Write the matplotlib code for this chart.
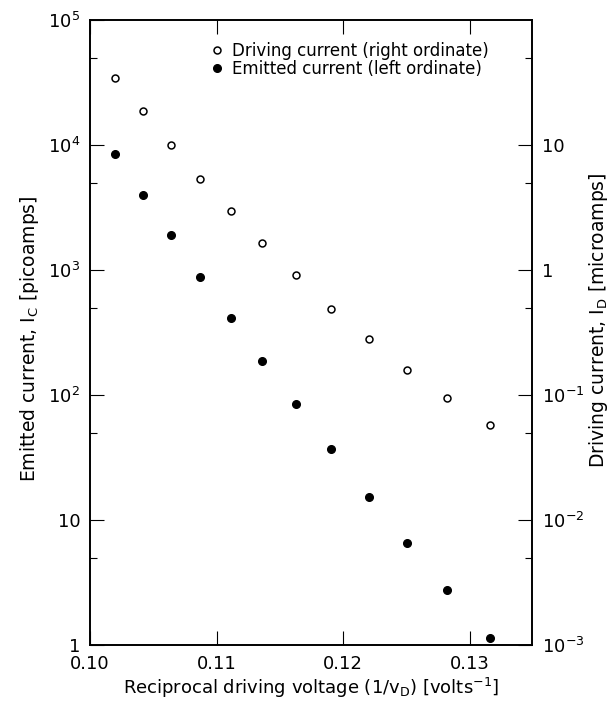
import matplotlib
matplotlib.use("Agg")
import matplotlib.pyplot as plt
from matplotlib.ticker import FixedLocator, FixedFormatter, NullFormatter

# reciprocal driving voltage, 1/v_D [1/V]
recip_voltage = [0.1020, 0.1042, 0.1064, 0.1087, 0.1111, 0.1136,
                 0.1163, 0.1190, 0.1220, 0.1250, 0.1282, 0.1316]

# emitted current I_C [picoamps] (left ordinate, filled dots)
emitted_pA = [8470, 3980, 1905, 879, 413, 187,
              84.7, 37.0, 15.3, 6.5, 2.75, 1.14]

# driving current I_D [microamps] (right ordinate, open dots)
driving_uA = [34.4, 18.7, 10.0, 5.35, 2.96, 1.64,
              0.91, 0.49, 0.28, 0.158, 0.0946, 0.0575]

x_ticks = [0.10, 0.11, 0.12, 0.13]
x_labels = ["0.10", "0.11", "0.12", "0.13"]
left_ticks = [1, 10, 1e2, 1e3, 1e4, 1e5]
left_labels = ["1", "10", r"10$^2$", r"10$^3$", r"10$^4$", r"10$^5$"]
right_ticks = [1e-3, 1e-2, 1e-1, 1, 10]
right_labels = [r"10$^{-3}$", r"10$^{-2}$", r"10$^{-1}$", "1", "10"]

plt.rcParams["font.family"] = ["DejaVu Sans"]
plt.rcParams["mathtext.fontset"] = "dejavusans"

fig = plt.figure(figsize=(6.10, 7.01), dpi=100)
ax1 = fig.add_axes([90 / 610, 1 - 645 / 701, 442 / 610, 625 / 701])
ax2 = ax1.twinx()

# data
h1, = ax1.plot(recip_voltage, emitted_pA, "o", color="black", ms=5.5,
               label="Emitted current (left ordinate)")
h2, = ax2.plot(recip_voltage, driving_uA, "o", mfc="white", mec="black",
               mew=1.1, ms=5.0, label="Driving current (right ordinate)")

# scales
ax1.set_xlim(0.10, 0.1349)
ax1.set_yscale("log")
ax1.set_ylim(1, 1e5)
ax2.set_yscale("log")
ax2.set_ylim(1e-3, 1e2)

# ticks
ax1.xaxis.set_major_locator(FixedLocator(x_ticks))
ax1.xaxis.set_major_formatter(FixedFormatter(x_labels))
ax1.yaxis.set_major_locator(FixedLocator(left_ticks))
ax1.yaxis.set_major_formatter(FixedFormatter(left_labels))
ax1.yaxis.set_minor_locator(FixedLocator([5 * t for t in left_ticks[:-1]]))
ax1.yaxis.set_minor_formatter(NullFormatter())
ax2.yaxis.set_major_locator(FixedLocator(right_ticks))
ax2.yaxis.set_major_formatter(FixedFormatter(right_labels))
ax2.yaxis.set_minor_locator(FixedLocator([5 * t for t in right_ticks]))
ax2.yaxis.set_minor_formatter(NullFormatter())

ax1.tick_params(axis="x", which="major", direction="in", top=True,
                length=10, width=0.8, labelsize=13, pad=7)
ax1.tick_params(axis="y", which="major", direction="in", length=10,
                width=0.8, labelsize=13, pad=7)
ax1.tick_params(axis="y", which="minor", direction="in", length=5, width=0.8)
ax2.tick_params(axis="y", which="major", direction="in", length=10,
                width=0.8, labelsize=13, pad=7)
ax2.tick_params(axis="y", which="minor", direction="in", length=5, width=0.8)

for ax in (ax1, ax2):
    for s in ax.spines.values():
        s.set_linewidth(1.2)

# labels
ax1.set_xlabel(r"Reciprocal driving voltage (1/v$_\mathrm{D}$) [volts$^{-1}$]",
               fontsize=13)
ax1.xaxis.set_label_coords(0.5, -0.05)
ax1.set_ylabel(r"Emitted current, I$_\mathrm{C}$ [picoamps]", fontsize=13.5)
ax1.yaxis.set_label_coords(-0.11, 0.49)
ax2.set_ylabel(r"Driving current, I$_\mathrm{D}$ [microamps]", fontsize=13.5)
ax2.yaxis.set_label_coords(1.125, 0.52)

# legend
ax2.legend([h2, h1], [h2.get_label(), h1.get_label()], loc="upper left",
           bbox_to_anchor=(0.276, 0.965), frameon=False, fontsize=12,
           handlelength=0.6, handletextpad=0.6, labelspacing=0.0,
           borderpad=0, borderaxespad=0)

fig.savefig("out.png", dpi=100)
